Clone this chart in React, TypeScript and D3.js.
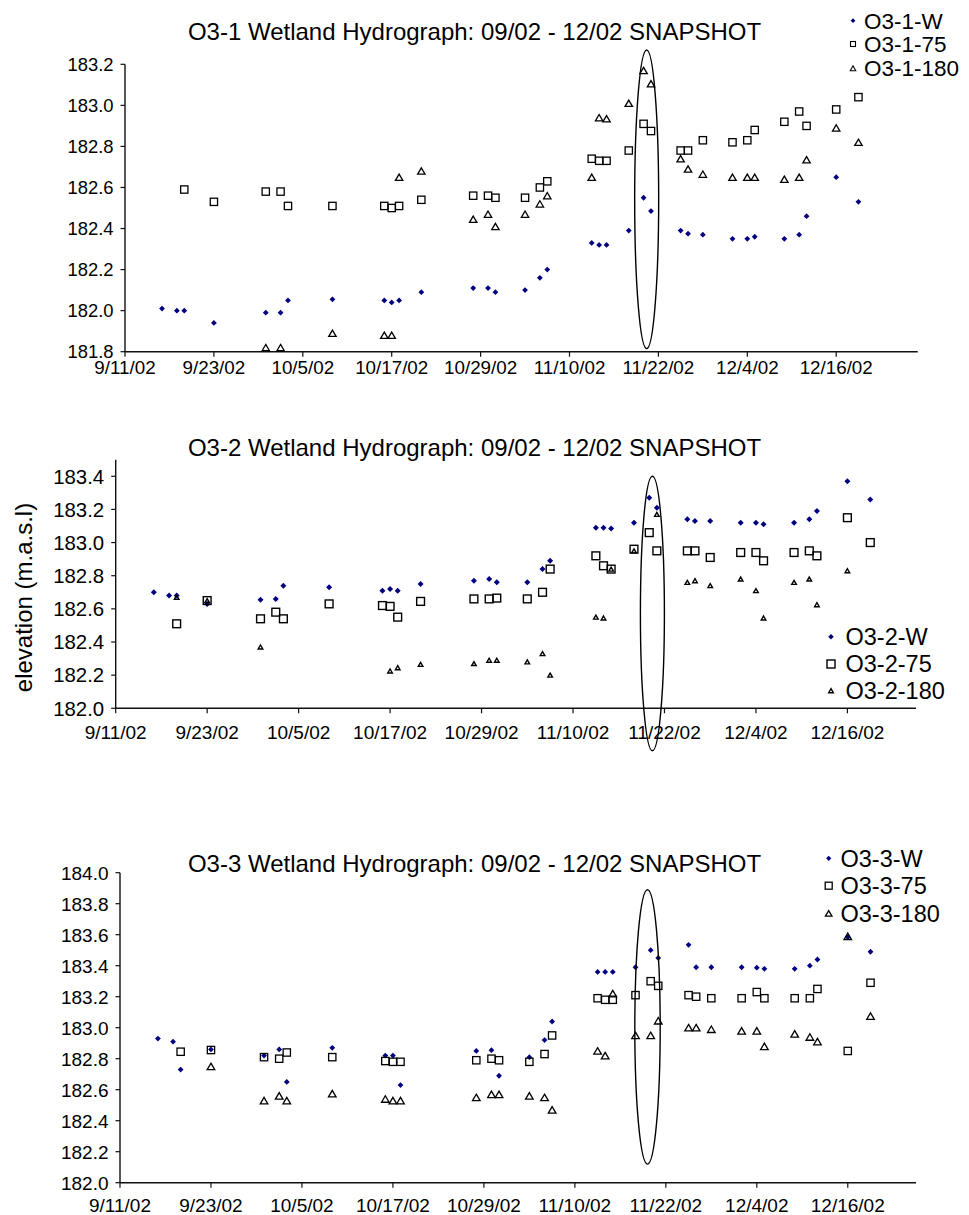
import React from "react";
import * as d3 from "d3";

// ---------- DATA ----------
const xTickLabels = ["9/11/02", "9/23/02", "10/5/02", "10/17/02", "10/29/02", "11/10/02", "11/22/02", "12/4/02", "12/16/02"];

// O3-1
const o31WDates = ["09-16","09-18","09-19","09-23","09-30","10-02","10-03","10-09","10-16","10-17","10-18","10-21","10-28","10-30","10-31","11-04","11-06","11-07","11-13","11-14","11-15","11-18","11-20","11-21","11-25","11-26","11-28","12-02","12-04","12-05","12-09","12-11","12-12","12-16","12-19"];
const o31WValues = [182.01,182.00,182.00,181.94,181.99,181.99,182.05,182.055,182.05,182.04,182.05,182.09,182.11,182.11,182.09,182.10,182.16,182.20,182.33,182.32,182.32,182.39,182.55,182.485,182.39,182.375,182.37,182.35,182.35,182.36,182.35,182.37,182.46,182.65,182.53];
const o3175Dates = ["09-19","09-23","09-30","10-02","10-03","10-09","10-16","10-17","10-18","10-21","10-28","10-30","10-31","11-04","11-06","11-07","11-13","11-14","11-15","11-18","11-20","11-21","11-25","11-26","11-28","12-02","12-04","12-05","12-09","12-11","12-12","12-16","12-19"];
const o3175Values = [182.59,182.53,182.58,182.58,182.51,182.51,182.51,182.50,182.51,182.54,182.56,182.56,182.55,182.55,182.60,182.63,182.74,182.73,182.73,182.78,182.91,182.875,182.78,182.78,182.83,182.82,182.83,182.88,182.92,182.97,182.90,182.98,183.04];
const o31180Dates = ["09-30","10-02","10-09","10-16","10-17","10-18","10-21","10-28","10-30","10-31","11-04","11-06","11-07","11-13","11-14","11-15","11-18","11-20","11-21","11-25","11-26","11-28","12-02","12-04","12-05","12-09","12-11","12-12","12-16","12-19"];
const o31180Values = [181.82,181.82,181.89,181.88,181.88,182.65,182.68,182.445,182.47,182.41,182.47,182.52,182.56,182.65,182.94,182.935,183.01,183.17,183.105,182.74,182.69,182.665,182.65,182.65,182.65,182.64,182.65,182.735,182.89,182.82];
const o31YTicks = [181.8,182.0,182.2,182.4,182.6,182.8,183.0,183.2];

// O3-2
const o32WDates = o31WDates;
const o32WValues = [182.70,182.68,182.68,182.63,182.655,182.66,182.74,182.73,182.71,182.72,182.71,182.75,182.77,182.78,182.76,182.76,182.84,182.89,183.09,183.09,183.085,183.12,183.27,183.21,183.14,183.13,183.13,183.12,183.12,183.11,183.12,183.14,183.19,183.37,183.26];
const o3275Dates = o3175Dates;
const o3275Values = [182.51,182.65,182.54,182.58,182.54,182.63,182.62,182.615,182.55,182.645,182.66,182.66,182.665,182.66,182.70,182.84,182.92,182.86,182.84,182.96,183.06,182.95,182.95,182.95,182.91,182.94,182.94,182.89,182.94,182.95,182.92,183.15,183.00];
const o32180Dates = ["09-19","09-23","09-30","10-17","10-18","10-21","10-28","10-30","10-31","11-04","11-06","11-07","11-13","11-14","11-15","11-18","11-21","11-25","11-26","11-28","12-02","12-04","12-05","12-09","12-11","12-12","12-16"];
const o32180Values = [182.67,182.65,182.37,182.225,182.245,182.265,182.27,182.29,182.29,182.28,182.33,182.20,182.55,182.545,182.84,182.95,183.17,182.76,182.77,182.74,182.78,182.71,182.545,182.76,182.78,182.625,182.83];
const o32YTicks = [182.0,182.2,182.4,182.6,182.8,183.0,183.2,183.4];

// O3-3
const o33WDates = ["09-16","09-18","09-19","09-23","09-30","10-02","10-03","10-09","10-16","10-17","10-18","10-28","10-30","10-31","11-04","11-06","11-07","11-13","11-14","11-15","11-18","11-20","11-21","11-25","11-26","11-28","12-02","12-04","12-05","12-09","12-11","12-12","12-16","12-19"];
const o33WValues = [182.93,182.91,182.73,182.86,182.82,182.86,182.65,182.87,182.82,182.82,182.63,182.85,182.855,182.69,182.81,182.92,183.04,183.36,183.36,183.36,183.39,183.50,183.45,183.535,183.39,183.39,183.39,183.387,183.38,183.38,183.40,183.44,183.585,183.49];
const o3375Dates = ["09-19","09-23","09-30","10-02","10-03","10-09","10-16","10-17","10-18","10-28","10-30","10-31","11-04","11-06","11-07","11-13","11-14","11-15","11-18","11-20","11-21","11-25","11-26","11-28","12-02","12-04","12-05","12-09","12-11","12-12","12-16","12-19"];
const o3375Values = [182.845,182.856,182.81,182.80,182.84,182.81,182.785,182.78,182.78,182.79,182.80,182.79,182.78,182.83,182.95,183.19,183.18,183.18,183.21,183.30,183.27,183.21,183.20,183.19,183.19,183.23,183.19,183.19,183.19,183.25,182.85,183.29];
const o33180Dates = ["09-23","09-30","10-02","10-03","10-09","10-16","10-17","10-18","10-28","10-30","10-31","11-04","11-06","11-07","11-13","11-14","11-15","11-18","11-20","11-21","11-25","11-26","11-28","12-02","12-04","12-05","12-09","12-11","12-12","12-16","12-19"];
const o33180Values = [182.75,182.53,182.56,182.53,182.575,182.54,182.53,182.53,182.55,182.57,182.57,182.56,182.55,182.47,182.85,182.82,183.22,182.95,182.95,183.045,183.00,183.00,182.99,182.98,182.98,182.88,182.96,182.94,182.91,183.59,183.075];
const o33YTicks = [182.0,182.2,182.4,182.6,182.8,183.0,183.2,183.4,183.6,183.8,184.0];

// ---------- HELPERS ----------
const parseDay = (s: string) => new Date(`2002-${s}T00:00:00Z`);
const parseTick = d3.utcParse("%m/%d/%y");
const FONT = "'Liberation Sans', Arial, Helvetica, sans-serif";
const NAVY = "#000080";

type MarkerSize = { d: number; sq: number; tw: number; th: number; sw: number };

function Marker({ type, x, y, ms }: { type: string; x: number; y: number; ms: MarkerSize }) {
  if (type === "W") {
    const s = ms.d;
    return <path d={`M${x},${y - s}L${x + s},${y}L${x},${y + s}L${x - s},${y}Z`} fill={NAVY} />;
  }
  if (type === "75") {
    const s = ms.sq;
    return <rect x={x - s / 2} y={y - s / 2} width={s} height={s} fill="none" stroke="#000" strokeWidth={ms.sw} />;
  }
  const w = ms.tw, h = ms.th;
  return <path d={`M${x},${y - h / 2}L${x + w / 2},${y + h / 2}L${x - w / 2},${y + h / 2}Z`} fill="none" stroke="#000" strokeWidth={ms.sw} strokeLinejoin="miter" />;
}

type ChartCfg = {
  id: string;
  title: string;
  titleY: number;
  left: number; right: number; top: number; bottom: number;
  xEnd: string;
  yDomain: [number, number];
  yTicks: number[];
  yTickFont: number;
  xTickFont: number;
  xLabelDy: number;
  series: { type: string; dates: string[]; values: number[] }[];
  legend: { mx: number; tx: number; ys: number[]; font: number; ms: MarkerSize };
  ms: MarkerSize;
  ellipse: { center: string; top: number; bottom: number; rx: number };
  yTitle?: { x: number; y: number; text: string };
};

function Chart({ cfg }: { cfg: ChartCfg }) {
  const x = d3.scaleUtc().domain([new Date("2002-09-11T00:00:00Z"), new Date(cfg.xEnd)]).range([cfg.left, cfg.right]);
  const y = d3.scaleLinear().domain(cfg.yDomain).range([cfg.bottom, cfg.top]);
  const ticks = xTickLabels.map((l) => ({ l, d: parseTick(l)! }));
  const e = cfg.ellipse;
  const ecx = x(new Date(e.center));
  const ey1 = y(e.top), ey2 = y(e.bottom);
  return (
    <g>
      <text x={474.5} y={cfg.titleY} textAnchor="middle" fontFamily={FONT} fontSize={24} fill="#000">{cfg.title}</text>
      {/* axes */}
      <line x1={cfg.left} x2={cfg.left} y1={cfg.top} y2={cfg.bottom} stroke="#111" strokeWidth={1.4} />
      <line x1={cfg.left} x2={cfg.right} y1={cfg.bottom} y2={cfg.bottom} stroke="#111" strokeWidth={1.4} />
      {cfg.yTicks.map((t) => (
        <g key={"y" + t}>
          <line x1={cfg.left - 4.5} x2={cfg.left} y1={y(t)} y2={y(t)} stroke="#111" strokeWidth={1.2} />
          <text x={cfg.left - 11.5} y={y(t)} dy="0.36em" textAnchor="end" fontFamily={FONT} fontSize={cfg.yTickFont} fill="#000">{t.toFixed(1)}</text>
        </g>
      ))}
      {ticks.map((t) => (
        <g key={"x" + t.l}>
          <line x1={x(t.d)} x2={x(t.d)} y1={cfg.bottom} y2={cfg.bottom + 5} stroke="#111" strokeWidth={1.2} />
          <text x={x(t.d)} y={cfg.bottom + cfg.xLabelDy} dy="0.36em" textAnchor="middle" fontFamily={FONT} fontSize={cfg.xTickFont} fill="#000">{t.l}</text>
        </g>
      ))}
      {cfg.yTitle && (
        <text transform={`translate(${cfg.yTitle.x},${cfg.yTitle.y}) rotate(-90)`} textAnchor="middle" dy="0.36em" fontFamily={FONT} fontSize={24} fill="#000">{cfg.yTitle.text}</text>
      )}
      {/* points */}
      {cfg.series.map((s) => (
        <g key={s.type}>
          {s.dates.map((d, i) => (
            <Marker key={i} type={s.type} x={x(parseDay(d))} y={y(s.values[i])} ms={cfg.ms} />
          ))}
        </g>
      ))}
      {/* ellipse annotation */}
      <ellipse cx={ecx} cy={(ey1 + ey2) / 2} rx={e.rx} ry={Math.abs(ey2 - ey1) / 2} fill="none" stroke="#000" strokeWidth={1.4} />
      {/* legend */}
      {cfg.series.map((s, i) => (
        <g key={"lg" + s.type}>
          <Marker type={s.type} x={cfg.legend.mx} y={cfg.legend.ys[i]} ms={cfg.legend.ms} />
          <text x={cfg.legend.tx} y={cfg.legend.ys[i]} dy="0.36em" fontFamily={FONT} fontSize={cfg.legend.font} fill="#000">{`${cfg.id}-${s.type}`}</text>
        </g>
      ))}
    </g>
  );
}

const charts: ChartCfg[] = [
  {
    id: "O3-1",
    title: "O3-1 Wetland Hydrograph: 09/02 - 12/02 SNAPSHOT",
    titleY: 40,
    left: 125, right: 917.7, top: 64.3, bottom: 351.7,
    xEnd: "2002-12-27T00:00:00Z",
    yDomain: [181.8, 183.2],
    yTicks: o31YTicks,
    yTickFont: 18.4,
    xTickFont: 18.8,
    xLabelDy: 16,
    series: [
      { type: "W", dates: o31WDates, values: o31WValues },
      { type: "75", dates: o3175Dates, values: o3175Values },
      { type: "180", dates: o31180Dates, values: o31180Values },
    ],
    legend: { mx: 853, tx: 864, ys: [20.7, 44, 68.3], font: 22.5, ms: { d: 2.4, sq: 5, tw: 5.5, th: 5, sw: 1.1 } },
    ms: { d: 2.9, sq: 7.3, tw: 7.4, th: 6.3, sw: 1.3 },
    ellipse: { center: "2002-11-20T10:00:00Z", top: 183.27, bottom: 181.815, rx: 12 },
  },
  {
    id: "O3-2",
    title: "O3-2 Wetland Hydrograph: 09/02 - 12/02 SNAPSHOT",
    titleY: 456,
    left: 115.7, right: 916, top: 459.7, bottom: 708.3,
    xEnd: "2002-12-25T00:00:00Z",
    yDomain: [182.0, 183.5],
    yTicks: o32YTicks,
    yTickFont: 20.4,
    xTickFont: 19,
    xLabelDy: 24,
    series: [
      { type: "W", dates: o32WDates, values: o32WValues },
      { type: "75", dates: o3275Dates, values: o3275Values },
      { type: "180", dates: o32180Dates, values: o32180Values },
    ],
    legend: { mx: 831, tx: 845.5, ys: [636.7, 664, 690.7], font: 23.5, ms: { d: 2.8, sq: 8, tw: 4.6, th: 4, sw: 1.4 } },
    ms: { d: 3, sq: 7.8, tw: 4.6, th: 4, sw: 1.4 },
    ellipse: { center: "2002-11-20T10:00:00Z", top: 183.40, bottom: 181.744, rx: 12 },
    yTitle: { x: 23.5, y: 597.5, text: "elevation (m.a.s.l)" },
  },
  {
    id: "O3-3",
    title: "O3-3 Wetland Hydrograph: 09/02 - 12/02 SNAPSHOT",
    titleY: 871.7,
    left: 120, right: 916, top: 872.7, bottom: 1182.7,
    xEnd: "2002-12-25T00:00:00Z",
    yDomain: [182.0, 184.0],
    yTicks: o33YTicks,
    yTickFont: 19,
    xTickFont: 19,
    xLabelDy: 22.5,
    series: [
      { type: "W", dates: o33WDates, values: o33WValues },
      { type: "75", dates: o3375Dates, values: o3375Values },
      { type: "180", dates: o33180Dates, values: o33180Values },
    ],
    legend: { mx: 828.7, tx: 840.5, ys: [858.3, 885.7, 913.3], font: 23.5, ms: { d: 2.6, sq: 7, tw: 6.5, th: 5.5, sw: 1.3 } },
    ms: { d: 2.9, sq: 7.3, tw: 7.6, th: 6.5, sw: 1.3 },
    ellipse: { center: "2002-11-19T14:00:00Z", top: 183.89, bottom: 182.12, rx: 12.7 },
  },
];

export default function App() {
  return (
    <svg width={969} height={1215} style={{ position: "absolute", left: 0, top: 0, background: "#fff" }}>
      <rect x={0} y={0} width={969} height={1215} fill="#fff" />
      {charts.map((c) => (
        <Chart key={c.id} cfg={c} />
      ))}
    </svg>
  );
}
